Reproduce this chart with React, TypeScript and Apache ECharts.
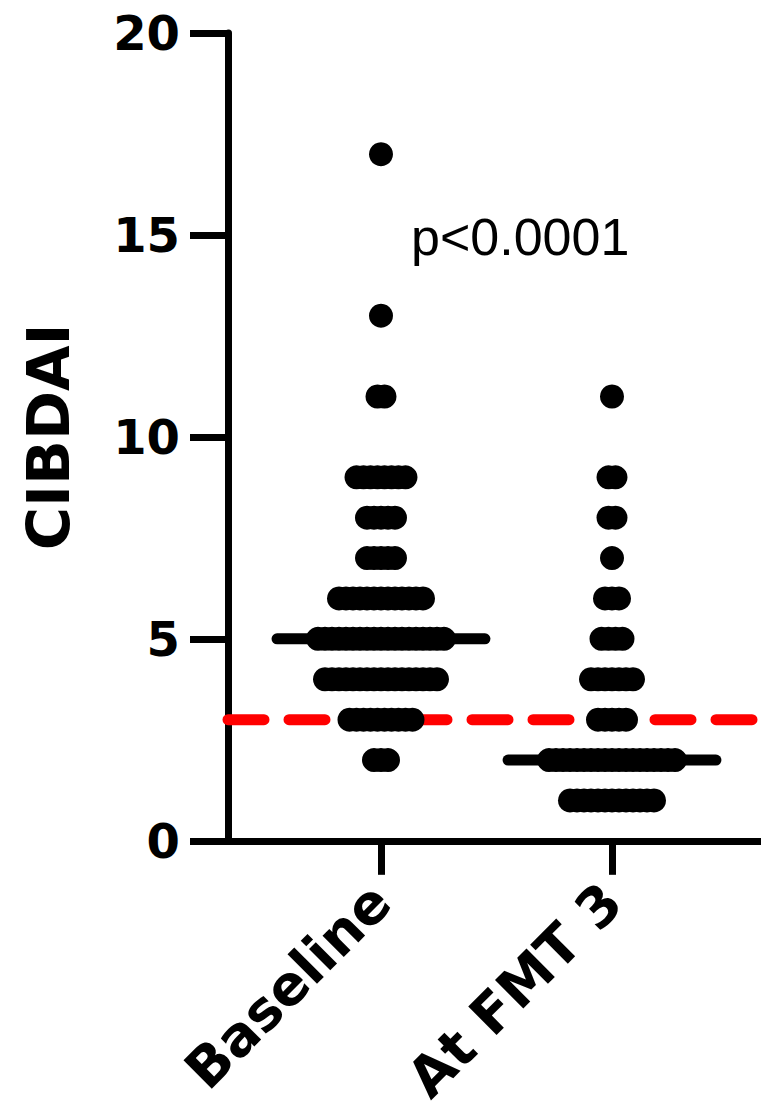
import React, { useEffect, useRef } from "react";
import * as echarts from "echarts";

const categories = ["Baseline", "At FMT 3"];
const baselineScores = [2, 3, 4, 5, 6, 7, 8, 9, 11, 13, 17];
const baselineCounts = [3, 10, 17, 19, 13, 5, 5, 8, 2, 1, 1];
const fmtScores = [1, 2, 3, 4, 5, 6, 7, 8, 9, 11];
const fmtCounts = [13, 19, 5, 7, 4, 3, 1, 2, 2, 1];
const medians = [5, 2];
const threshold = 3;
const pValueLabel = "p<0.0001";
const yAxisTitle = "CIBDAI";

const X_MIN = 0.3377;
const X_MAX = 2.645;
const DOT_STEP = 7 / 231;
const MEDIAN_HALF = 0.45;

function buildPoints(pos: number, scores: number[], counts: number[]) {
  const pts: number[][] = [];
  scores.forEach((s, k) => {
    const n = counts[k];
    for (let i = 0; i < n; i++) {
      pts.push([pos + (i - (n - 1) / 2) * DOT_STEP, s]);
    }
  });
  return pts;
}

export default function App() {
  const ref = useRef<HTMLDivElement>(null);
  useEffect(() => {
    if (!ref.current) return;
    const chart = echarts.init(ref.current, null, { renderer: "svg" });
    const font = "DejaVu Sans";
    const groups = [
      buildPoints(1, baselineScores, baselineCounts),
      buildPoints(2, fmtScores, fmtCounts),
    ];
    const series: any[] = [];
    series.push({
      type: "line",
      data: [
        [X_MIN, threshold],
        [X_MAX, threshold],
      ],
      symbol: "none",
      z: 1,
      lineStyle: { color: "#ff0000", width: 11, type: [36, 25], cap: "round", opacity: 1 },
      silent: true,
    });
    groups.forEach((pts) => {
      series.push({
        type: "scatter",
        data: pts,
        symbol: "circle",
        symbolSize: 24,
        itemStyle: { color: "#000000", opacity: 1 },
        z: 3,
        silent: true,
      });
    });
    medians.forEach((m, g) => {
      series.push({
        type: "line",
        data: [
          [g + 1 - MEDIAN_HALF, m],
          [g + 1 + MEDIAN_HALF, m],
        ],
        symbol: "none",
        z: 2,
        lineStyle: { color: "#000000", width: 11, cap: "round", opacity: 1 },
        silent: true,
      });
    });
    chart.setOption({
      animation: false,
      backgroundColor: "#ffffff",
      textStyle: { fontFamily: font },
      grid: { left: 228, right: 0, top: 33, bottom: 268, containLabel: false },
      xAxis: {
        type: "value",
        min: X_MIN,
        max: X_MAX,
        splitLine: { show: false },
        axisLine: { show: true, onZero: false, lineStyle: { color: "#000", width: 7 } },
        axisTick: {
          show: true,
          customValues: [1, 2],
          length: 34,
          lineStyle: { color: "#000", width: 7 },
        },
        axisLabel: {
          show: true,
          customValues: [1, 2],
          formatter: (v: number) => categories[Math.round(v) - 1] ?? "",
          rotate: 45,
          margin: 52,
          fontSize: 55,
          fontWeight: "bold",
          fontFamily: font,
          color: "#000",
        },
      },
      yAxis: {
        type: "value",
        min: 0,
        max: 20,
        interval: 5,
        name: yAxisTitle,
        nameLocation: "middle",
        nameGap: 150,
        nameRotate: 90,
        nameTextStyle: { fontSize: 59, fontWeight: "bold", fontFamily: font, color: "#000" },
        splitLine: { show: false },
        axisLine: { show: true, lineStyle: { color: "#000", width: 7 } },
        axisTick: { show: true, length: 38, lineStyle: { color: "#000", width: 7 } },
        axisLabel: {
          margin: 48,
          fontSize: 48,
          fontWeight: "bold",
          fontFamily: font,
          color: "#000",
        },
      },
      graphic: [
        {
          type: "text",
          x: 411,
          y: 237,
          style: {
            text: pValueLabel,
            fontSize: 52,
            fontFamily: "Liberation Sans",
            fill: "#000",
            verticalAlign: "middle",
            align: "left",
          },
        },
      ],
      series,
    });
    return () => chart.dispose();
  }, []);
  return (
    <div
      ref={ref}
      style={{ position: "absolute", left: 0, top: 0, width: 761, height: 1109 }}
    />
  );
}
